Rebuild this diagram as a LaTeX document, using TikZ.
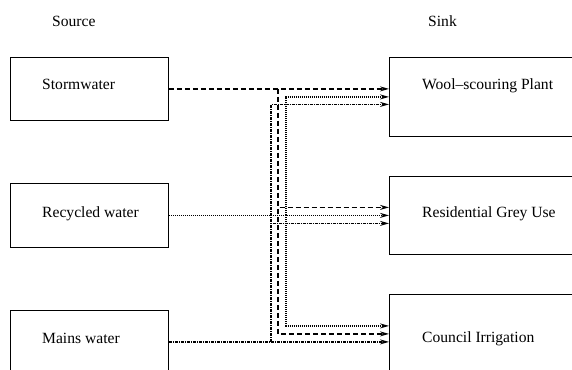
\documentclass[tikz,border=0pt]{standalone}
\usepackage{fontspec}
\setmainfont{Liberation Serif}
\usetikzlibrary{arrows.meta}

\tikzset{
    caja/.style={draw, line width=0.8pt, minimum width=158pt, inner sep=0pt, anchor=north west},
    rotulo/.style={anchor=base west, inner sep=0pt, font=\fontsize{15.6}{18}\selectfont},
    flujo/.style={line width=1.2pt, -{Stealth[length=9pt,width=5pt]}},
    pluvial/.style={flujo, dash pattern=on 5pt off 3pt},
    reciclada/.style={flujo, dash pattern=on 1pt off 1pt},
    red/.style={flujo, dash pattern=on 3pt off 1pt on 1pt off 1pt}
}

\begin{document}
\begin{tikzpicture}[x=1pt, y=-1pt]
        % Fija el marco de la figura.
        \clip (0,0) rectangle (572,369);

        % Encabezados de ambas columnas.
        \node[rotulo] (tsource) at (52,27) {Source};
        \node[rotulo] (tsink) at (428,27) {Sink};

        % Cajas de las fuentes.
        \node[caja, minimum height=63pt] (storm) at (10,57) {};
        \node[caja, minimum height=64pt] (recyc) at (10,183) {};
        \node[caja, minimum height=63pt] (mains) at (10,310) {};
        \node[rotulo] (tstorm) at (42,89) {Stormwater};
        \node[rotulo] (trecyc) at (42,217) {Recycled water};
        \node[rotulo] (tmains) at (42,343) {Mains water};

        % Cajas de los destinos.
        \node[caja, minimum width=200pt, minimum height=79pt] (wool) at (389,57) {};
        \node[caja, minimum width=200pt, minimum height=78pt] (resid) at (389,176) {};
        \node[caja, minimum width=200pt, minimum height=79pt] (council) at (389,294) {};
        \node[rotulo] (twool) at (422,89) {Wool--scouring Plant};
        \node[rotulo] (tresid) at (422,217) {Residential Grey Use};
        \node[rotulo] (tcouncil) at (422,342.5) {Council Irrigation};

        % Columnas verticales de reparto.
        \coordinate (mainsbus) at (271,0);
        \coordinate (stormbus) at (278,0);
        \coordinate (recycbus) at (286,0);

        % Agua pluvial.
        \draw[pluvial] (storm.east) -- (wool.west |- storm.east);
        \draw[pluvial] (storm.east -| stormbus) |- ([yshift=8pt]resid.west);
        \draw[pluvial] (storm.east -| stormbus) |- (council.west);

        % Agua reciclada.
        \draw[reciclada] (recyc.east) -- (resid.west |- recyc.east);
        \draw[reciclada] (recyc.east -| recycbus) |- (wool.west);
        \draw[reciclada] (recyc.east -| recycbus) |- ([yshift=8pt]council.west);

        % Agua de red.
        \draw[red] (mains.east) -- (council.west |- mains.east);
        \draw[red] (mains.east -| mainsbus) |- ([yshift=-7.5pt]wool.west);
        \draw[red] (mains.east -| mainsbus) |- ([yshift=-8pt]resid.west);
    \end{tikzpicture}
\end{document}
